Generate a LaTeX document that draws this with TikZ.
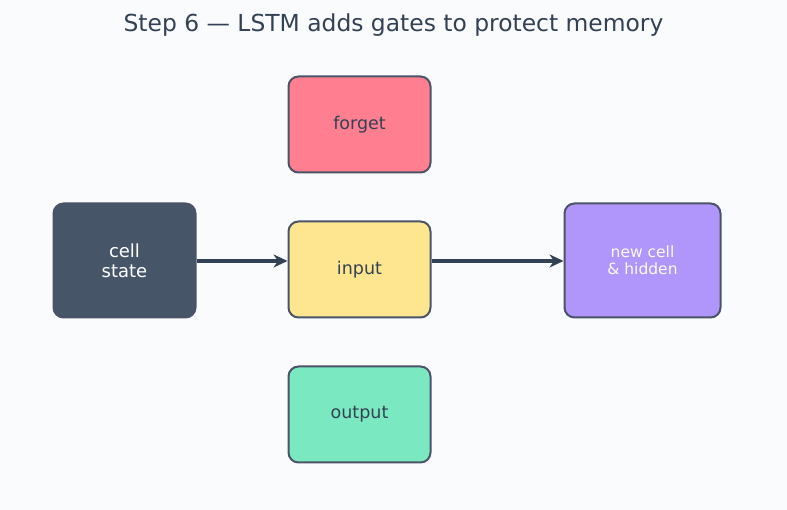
\documentclass[tikz,border=0pt]{standalone}
\usepackage{fontspec}
\setmainfont{DejaVu Sans}
\usetikzlibrary{arrows.meta,positioning}
\definecolor{Ink}{HTML}{334155}
\definecolor{Edge}{HTML}{4A5368}
\definecolor{Page}{HTML}{FAFBFD}
\definecolor{Slate}{HTML}{475569}
\definecolor{Rose}{HTML}{FF7F91}
\definecolor{Amber}{HTML}{FDE68F}
\definecolor{Mint}{HTML}{7AE8C0}
\definecolor{Violet}{HTML}{B096FA}

\tikzset{
  gatebox/.style={draw=Edge,line width=2pt,rounded corners=10pt,
    minimum width=142pt,minimum height=96pt,inner sep=0pt,
    text=Ink,font=\fontsize{17.5}{20}\selectfont,align=center},
  flow/.style={draw=Ink,line width=3.4pt,-{Stealth[length=14pt,width=13pt]}}
}

\begin{document}
\begin{tikzpicture}[x=1pt,y=1pt]
        \fill[Page] (0,0) rectangle (787,510);
        \useasboundingbox (0,0) rectangle (787,510);
        \node[text=Ink,font=\fontsize{23.4}{26}\selectfont] (title) at (393.5,484.5) {Step 6 — LSTM adds gates to protect memory};
        % the three gates
        \node[gatebox,fill=Rose] (forget) at (359.5,385.5) {forget};
        \node[gatebox,fill=Amber] (input) at (359.5,240.5) {input};
        \node[gatebox,fill=Mint] (output) at (359.5,95.5) {output};
        % memory in and out
        \node[gatebox,fill=Slate,minimum height=114pt,text=white,
          font=\fontsize{18}{20}\selectfont] (cell) at (124.5,249.5) {cell\\state};
        \node[gatebox,fill=Violet,minimum width=156pt,minimum height=114pt,
          text=white!94!Violet,font=\fontsize{15.5}{17}\selectfont] (hidden) at (642.5,249.5) {new cell\\\& hidden};
        \draw[flow] (cell.east |- 0,249) -- (input.west |- 0,249);
        \draw[flow] (input.east |- 0,249) -- (hidden.west |- 0,249);
      \end{tikzpicture}
\end{document}
